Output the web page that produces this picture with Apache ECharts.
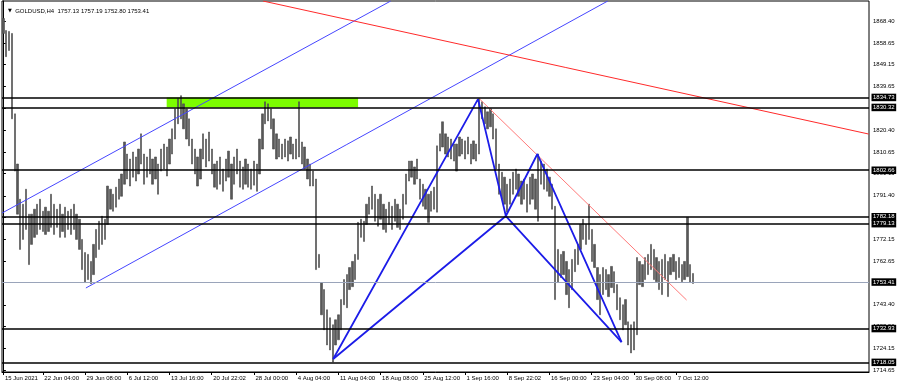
<!DOCTYPE html>
<html><head><meta charset="utf-8">
<script src="https://cdn.jsdelivr.net/npm/echarts@6/dist/echarts.min.js"></script>
<style>html,body{margin:0;padding:0;background:#fff}#c{width:900px;height:386px}</style>
</head><body><div id="c"></div>
<script>
// H4 bar highs / lows (one slot ~ 2 H4 bars)
const highs = [
1869.5,1864.2,1863.8,1862.9,1827.5,1805.4,1789.9,1787.7,1794.3,1783.3,
1783.3,1785.5,1787.7,1789.9,1784.6,1786.4,1784.6,1792.1,1787.7,1785.5,
1787.7,1783.3,1786.4,1784.6,1785.5,1787.7,1783.3,1781.1,1772.2,1766.4,
1765.6,1762.5,1770.0,1776.6,1780.2,1782.4,1781.1,1795.7,1794.3,1792.1,
1795.2,1798.8,1801.0,1815.1,1809.8,1807.6,1810.7,1808.5,1812.0,1818.7,
1809.8,1808.5,1812.0,1807.6,1808.5,1805.4,1812.0,1814.2,1812.9,1816.4,
1820.9,1829.7,1834.2,1835.5,1831.9,1829.7,1825.3,1816.4,1812.0,1808.5,
1812.0,1818.7,1816.4,1819.5,1812.0,1805.4,1806.7,1808.5,1803.2,1807.6,
1811.1,1805.4,1808.5,1812.0,1806.7,1804.1,1807.6,1805.4,1803.2,1806.7,
1805.4,1816.4,1827.5,1832.8,1831.9,1829.7,1825.3,1818.7,1816.4,1814.2,
1816.4,1815.6,1817.3,1814.2,1816.4,1832.8,1815.1,1812.9,1807.6,1805.4,
1802.3,1798.8,1765.6,1753.2,1750.1,1741.2,1737.7,1734.6,1736.8,1739.0,
1745.7,1754.5,1756.7,1759.8,1762.5,1765.6,1779.7,1781.1,1780.2,1787.7,
1790.8,1795.7,1792.1,1789.9,1792.1,1787.7,1785.5,1788.6,1786.8,1789.9,
1787.7,1785.5,1792.1,1801.0,1806.7,1806.7,1804.1,1807.6,1798.8,1796.5,
1794.3,1792.1,1793.4,1795.2,1813.4,1818.7,1824.0,1818.7,1817.3,1816.4,
1814.2,1814.2,1817.3,1816.4,1815.6,1817.3,1814.2,1815.6,1814.2,1834.2,
1832.8,1830.6,1828.4,1829.7,1827.5,1820.9,1805.4,1801.8,1799.6,1796.5,
1798.8,1801.8,1803.2,1801.0,1797.9,1798.8,1796.5,1799.6,1801.0,1798.8,
1809.8,1806.7,1805.4,1803.2,1799.6,1796.5,1786.8,1767.8,1765.6,1766.9,
1762.5,1758.9,1763.4,1767.8,1770.0,1778.8,1781.1,1778.8,1787.7,1776.6,
1770.0,1759.8,1756.7,1759.8,1758.9,1756.7,1760.3,1758.0,1752.3,1746.5,
1743.4,1745.7,1735.9,1734.6,1735.9,1764.2,1762.5,1761.1,1764.2,1765.6,
1770.0,1767.8,1764.2,1762.5,1763.4,1765.6,1762.5,1764.2,1765.6,1762.5,
1764.2,1761.1,1762.5,1781.9,1761.1,1757.2
];
const lows = [
1862.9,1852.7,1855.4,1825.3,1802.3,1783.3,1767.8,1772.2,1776.6,1761.1,
1770.0,1773.1,1774.4,1776.6,1775.7,1774.4,1775.7,1777.5,1774.4,1777.5,
1773.1,1775.7,1773.1,1776.6,1774.4,1776.6,1772.2,1767.8,1758.9,1753.2,
1754.5,1752.7,1756.7,1764.2,1767.8,1770.0,1772.2,1778.8,1785.5,1784.6,
1786.4,1789.9,1791.2,1796.5,1798.8,1795.7,1799.6,1797.9,1801.0,1805.4,
1796.5,1799.6,1801.0,1796.5,1798.8,1792.1,1802.3,1803.2,1800.1,1805.4,
1809.8,1816.4,1823.1,1825.3,1820.9,1816.4,1813.4,1805.4,1801.0,1795.7,
1798.8,1807.6,1804.1,1806.7,1801.0,1795.2,1794.3,1796.5,1793.4,1797.9,
1799.6,1789.9,1796.5,1801.0,1795.2,1794.3,1796.5,1795.2,1794.3,1796.1,
1793.4,1801.0,1812.0,1823.1,1824.4,1820.9,1812.0,1807.6,1808.5,1807.6,
1808.5,1806.7,1809.8,1807.6,1807.6,1808.5,1805.4,1803.2,1798.8,1795.7,
1795.7,1758.9,1759.8,1739.0,1732.4,1725.7,1723.5,1718.2,1725.7,1728.0,
1732.4,1743.4,1742.1,1750.1,1751.4,1754.5,1763.4,1773.1,1771.3,1778.8,
1783.3,1785.5,1780.2,1778.0,1781.1,1776.6,1775.3,1778.8,1776.6,1780.2,
1777.5,1776.6,1781.1,1787.7,1797.9,1799.6,1796.5,1798.8,1789.9,1786.8,
1785.5,1779.7,1784.6,1785.5,1784.2,1811.1,1812.9,1809.8,1808.5,1807.6,
1806.7,1802.3,1808.9,1809.8,1807.6,1809.8,1805.4,1807.6,1806.7,1809.8,
1825.3,1823.1,1820.9,1821.8,1816.4,1803.2,1792.1,1789.9,1787.7,1784.2,
1787.7,1792.1,1794.3,1791.2,1787.7,1789.9,1784.2,1787.7,1789.9,1785.5,
1780.2,1796.5,1794.3,1793.4,1791.2,1785.5,1745.7,1753.2,1755.4,1756.7,
1747.9,1742.1,1750.1,1758.0,1761.1,1767.8,1772.2,1770.0,1772.2,1762.5,
1759.8,1745.7,1739.0,1747.9,1750.1,1747.0,1751.0,1748.7,1741.2,1736.8,
1732.4,1734.6,1725.7,1722.2,1723.5,1730.2,1752.3,1751.4,1754.5,1756.7,
1758.9,1754.5,1753.6,1750.1,1747.9,1754.5,1747.0,1756.7,1758.0,1754.5,
1755.4,1753.6,1754.5,1755.8,1753.2,1752.8
];
const slotCount = 308;
const xTickIndex = [0,14,29,44,59,74,89,104,119,134,149,164,179,194,209,224,239];
const xTickLabels = ['15 Jun 2021','22 Jun 04:00','29 Jun 08:00','6 Jul 12:00','13 Jul 16:00','20 Jul 22:02','28 Jul 00:00','4 Aug 04:00','11 Aug 04:00','18 Aug 08:00','25 Aug 12:00','1 Sep 16:00','8 Sep 22:02','16 Sep 00:00','23 Sep 04:00','30 Sep 08:00','7 Oct 12:00'];
const yTickValues = [1868.40,1858.65,1849.15,1839.65,1830.15,1820.40,1810.65,1801.15,1791.40,1781.90,1772.15,1762.65,1753.15,1743.40,1733.90,1724.15,1714.65];
const levels = [1834.73,1830.32,1802.66,1782.18,1779.13,1732.93,1718.05];
const lastPrice = 1753.41;
const titleText = 'GOLDUSD,H4  1757.13 1757.19 1752.80 1753.41';
const zoneX = [58, 126];
const zoneY = [1834.73, 1830.32];
const channelUpper = [[-0.5,1783.8],[137.6,1877.2]];
const channelLower = [[29.3,1750.8],[214.7,1877.2]];
const redLong = [[92.2,1877.2],[307.4,1818.6]];
const redShort = [[169.2,1834.0],[242.7,1745.5]];
const ptX = [117.15,1719.5], ptA = [168.6,1834.0], ptB = [178.5,1782.5], ptC = [189.7,1809.8], ptD = [219.6,1727.0];
const harmonicPath = [ptX, ptA, ptB, ptC, ptD];
const harmonicBase = [ptX, ptB, ptD];

const FONT = 'Liberation Sans';
const categories = Array.from({length: slotCount}, (_, i) => String(i));
const tickSet = new Set(xTickIndex);
const labelAt = {};
xTickIndex.forEach((idx, k) => { labelAt[idx] = xTickLabels[k]; });
const bars = highs.map((h, i) => [lows[i], h, lows[i], h]);

const tagLabel = {
  show: true, position: 'end', distance: 2.5,
  formatter: p => p.value.toFixed(2),
  backgroundColor: '#000', color: '#fff', fontSize: 6, fontFamily: FONT,
  padding: [1, 1.5, 0.5, 1.5], lineHeight: 6
};
const markLineData = levels.map(v => ({
  yAxis: v, lineStyle: {color: '#000', width: 1.6, type: 'solid'}, label: tagLabel
}));
markLineData.push({yAxis: lastPrice, lineStyle: {color: '#9aa4ba', width: 1, type: 'solid'}, label: tagLabel});

function trend(data, color, width) {
  return {
    type: 'line', xAxisIndex: 1, yAxisIndex: 0, data: data, symbol: 'none',
    silent: true, animation: false, clip: true,
    lineStyle: {color: color, width: width}
  };
}

const chart = echarts.init(document.getElementById('c'), null, {renderer: 'canvas'});
chart.setOption({
  animation: false,
  backgroundColor: '#fff',
  title: {
    text: '{t|▼}  ' + titleText, left: 3, top: 3,
    textStyle: {fontSize: 6, fontFamily: FONT, fontWeight: 'normal', color: '#000',
      rich: {t: {fontSize: 5, fontFamily: 'DejaVu Sans', color: '#000'}}}
  },
  grid: {left: 2, right: 31, top: 1, bottom: 14, show: true, borderColor: '#000', borderWidth: 1, backgroundColor: '#fff'},
  xAxis: [{
    type: 'category', data: categories, boundaryGap: true, position: 'bottom',
    axisLine: {show: true, lineStyle: {color: '#000', width: 1}},
    axisTick: {show: true, alignWithLabel: true, length: 3, interval: (i) => tickSet.has(i), lineStyle: {color: '#000'}},
    axisLabel: {interval: (i) => tickSet.has(i), formatter: (v, i) => labelAt[i] || '', align: 'left',
      fontSize: 6, fontFamily: FONT, color: '#000', margin: 3, padding: [0, 0, 0, 1.5]},
    splitLine: {show: false}
  }, {
    type: 'value', min: -0.5, max: slotCount - 0.5, show: false
  }],
  yAxis: [{
    type: 'value', position: 'right', min: 1713.8, max: 1877.2, scale: true,
    axisLine: {show: true, lineStyle: {color: '#000', width: 1}},
    axisTick: {show: true, length: 2.5, customValues: yTickValues, lineStyle: {color: '#000'}},
    axisLabel: {customValues: yTickValues, formatter: v => v.toFixed(2), fontSize: 6, fontFamily: FONT, color: '#000', margin: 4},
    splitLine: {show: false}
  }],
  series: [{
    type: 'candlestick', xAxisIndex: 0, yAxisIndex: 0, data: bars, barWidth: 1.8,
    itemStyle: {color: '#585858', color0: '#585858', borderColor: '#4a4a4a', borderColor0: '#4a4a4a', borderWidth: 0.6},
    silent: true,
    markArea: {
      silent: true,
      itemStyle: {color: '#7cfc00', opacity: 1},
      data: [[{xAxis: String(zoneX[0]), yAxis: zoneY[0]}, {xAxis: String(zoneX[1]), yAxis: zoneY[1]}]]
    },
    markLine: {silent: true, symbol: 'none', animation: false, precision: 2, data: markLineData}
  },
  trend(channelUpper, '#4646ff', 1),
  trend(channelLower, '#4646ff', 1),
  trend(redLong, '#ff2a2a', 1),
  trend(redShort, '#ff7a7a', 1),
  trend(harmonicPath, '#1c1ce8', 1.8),
  trend(harmonicBase, '#1c1ce8', 1.8)
  ]
});
</script></body></html>
